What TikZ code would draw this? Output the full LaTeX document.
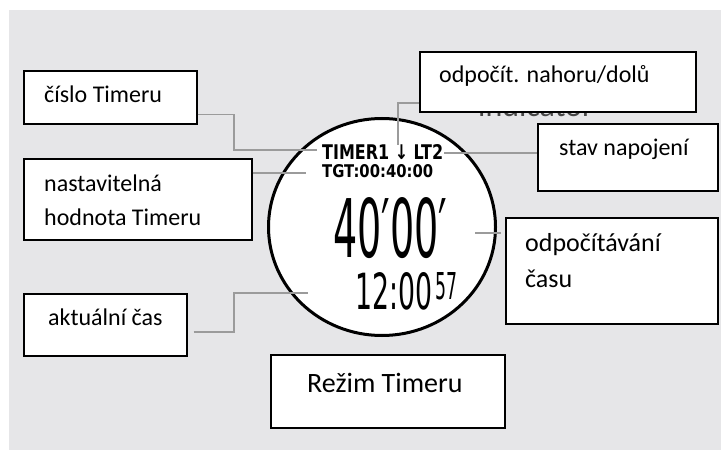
\documentclass[tikz,border=0pt]{standalone}
\usepackage{fontspec}
\usepackage{graphicx}
\setmainfont{Carlito}
\newfontfamily\lcdfont{DejaVu Sans}
\usetikzlibrary{calc,shapes.geometric}
\definecolor{bggray}{RGB}{230,230,232}
\definecolor{linegray}{RGB}{155,155,155}
\definecolor{hidgray}{RGB}{70,70,70}
\tikzset{
  lbl/.style={draw=black, line width=1.6bp, fill=white, inner sep=0pt, anchor=north west},
  conn/.style={draw=linegray, line width=1.5bp},
  txt/.style={inner sep=0pt, anchor=base west, font=\fontsize{24bp}{28bp}\selectfont},
  lcd/.style={inner sep=0pt, anchor=base west},
}
\begin{document}
\begin{tikzpicture}[x=1bp, y=-1bp]
\useasboundingbox (0,0) rectangle (721,450);
\fill[bggray] (9,10) rectangle (721,450);

% hidden leftover text under the box
\node[txt, text=hidgray] (ind) at (478,117) {\resizebox{115bp}{!}{indicator}};

% boxes
\node[lbl, minimum width=173bp, minimum height=53bp] (cis) at (23,70) {};
\node[lbl, minimum width=276bp, minimum height=60bp] (odp) at (419,51) {};
\node[lbl, minimum width=180bp, minimum height=67bp] (stav) at (537,123) {};
\node[lbl, minimum width=228bp, minimum height=81bp] (nast) at (23,158) {};
\node[lbl, minimum width=212bp, minimum height=106bp] (odpc) at (505,217) {};
\node[lbl, minimum width=163bp, minimum height=62bp] (akt) at (23,293) {};
\node[lbl, minimum width=234bp, minimum height=73bp] (rezim) at (270,354) {};

% box texts
\node[txt] (tcis) at (44,103) {číslo Timeru};
\node[txt] (todp) at (439,83) {odpočít. nahoru/dolů};
\node[txt] (tstav) at (559,156) {stav napojení};
\node[txt] (tnast1) at (44,192) {nastavitelná};
\node[txt] (tnast2) at (44,226) {hodnota Timeru};
\node[txt, font=\fontsize{26bp}{30bp}\selectfont] (todpc1) at (525,252) {odpočítávání};
\node[txt, font=\fontsize{26bp}{30bp}\selectfont] (todpc2) at (525,288) {času};
\node[txt] (takt) at (48,326) {aktuální čas};
\node[txt, font=\fontsize{28bp}{32bp}\selectfont] (trez) at (307,392) {Režim Timeru};

% watch face
\node[ellipse, draw=black, line width=3bp, fill=white, minimum width=227bp, minimum height=217bp, inner sep=0pt] (face) at (382,227) {};
\node[lcd] (timer) at (322,160) {\resizebox{121bp}{15bp}{\lcdfont\bfseries TIMER1 ↓ LT2}};
\node[lcd] (tgt) at (322,178) {\resizebox{111bp}{13bp}{\lcdfont\bfseries TGT:00:40:00}};
\node[lcd] (big) at (333,258) {\resizebox{114bp}{60bp}{\lcdfont 40′00′}};
\node[lcd] (clock) at (355,310) {\resizebox{77bp}{37bp}{\lcdfont 12:00}};
\node[lcd] (sec) at (435,300) {\resizebox{22bp}{27bp}{\lcdfont 57}};

% connector ends at the watch face
\coordinate (c1) at (317,150);
\coordinate (c2) at (398,145);
\coordinate (c3) at (306,173);
\coordinate (c4) at (444,153);
\coordinate (c5) at (475,233);
\coordinate (c6) at (308,293);

% connectors
\draw[conn] ($(cis.south east)+(0,-10)$) -| (234,150) -- (c1);
\draw[conn] ($(odp.north west)+(0,52)$) -| (c2);
\draw[conn] ($(nast.north east)+(0,15)$) -- (c3);
\draw[conn] (c4) -- ($(stav.north west)+(0,30)$);
\draw[conn] (c5) -- ($(odpc.north west)+(-4,16)$);
\draw[conn] ($(akt.north east)+(6,39)$) -| (234,293) -- (c6);
\end{tikzpicture}
\end{document}
